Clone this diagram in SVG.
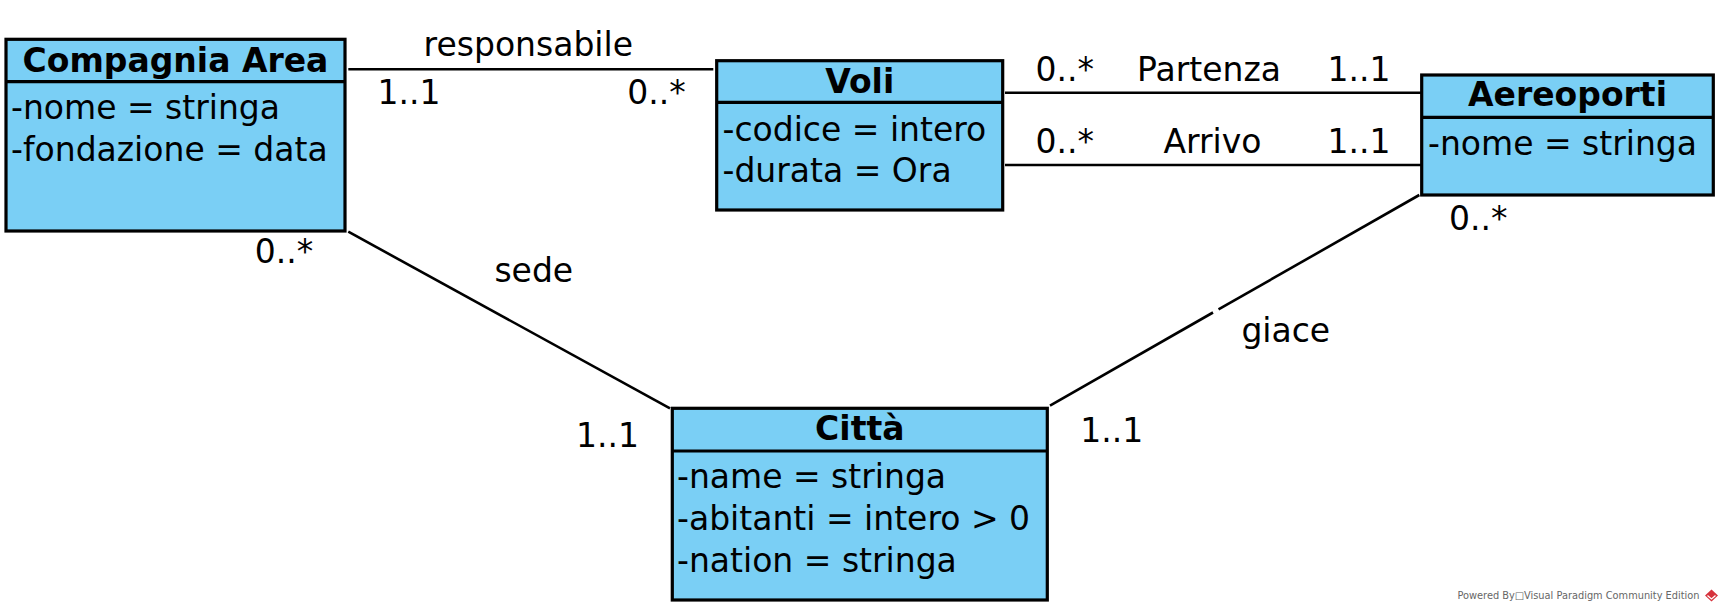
<svg xmlns="http://www.w3.org/2000/svg" width="1725" height="612" viewBox="0 0 1725 612">
<style>
.box{fill:#7ACFF5;stroke:#000;stroke-width:3.2}
.div{stroke:#000;stroke-width:3.2}
.t{font-family:"DejaVu Sans","Liberation Sans",sans-serif;font-size:33px;fill:#000}
.title{font-weight:bold;text-anchor:middle}
.lbl{text-anchor:middle}
.conn{stroke:#000;stroke-width:2.6;fill:none}
.wm{font-family:"DejaVu Sans","Liberation Sans",sans-serif;font-size:10px;fill:#666}
</style>
<rect width="1725" height="612" fill="#fff"/>
<g id="connectors">
  <line class="conn" x1="348.3" y1="69.3" x2="713.3" y2="69.3"/>
  <line class="conn" x1="1005" y1="92.7" x2="1421.7" y2="92.7"/>
  <line class="conn" x1="1005" y1="165" x2="1421.7" y2="165"/>
  <line class="conn" x1="348.3" y1="231.7" x2="670" y2="408.3"/>
  <line class="conn" x1="1050" y1="405.7" x2="1213" y2="312.5"/>
  <line class="conn" x1="1218.5" y1="309.4" x2="1419.3" y2="195"/>
  <text class="t lbl" x="528.3" y="56">responsabile</text>
  <text class="t lbl" x="409" y="104">1..1</text>
  <text class="t lbl" x="656.5" y="104">0..*</text>
  <text class="t lbl" x="1064.7" y="81">0..*</text>
  <text class="t lbl" x="1209" y="81">Partenza</text>
  <text class="t lbl" x="1359" y="81">1..1</text>
  <text class="t lbl" x="1064.7" y="152.7">0..*</text>
  <text class="t lbl" x="1212.5" y="152.7">Arrivo</text>
  <text class="t lbl" x="1359" y="152.7">1..1</text>
  <text class="t lbl" x="284" y="263.3">0..*</text>
  <text class="t lbl" x="533.8" y="281.7">sede</text>
  <text class="t lbl" x="607.5" y="446.7">1..1</text>
  <text class="t lbl" x="1285.8" y="341.7">giace</text>
  <text class="t lbl" x="1111.7" y="441.7">1..1</text>
  <text class="t lbl" x="1478.3" y="230">0..*</text>
</g>
<g id="compagnia-area">
  <rect class="box" x="6" y="39.3" width="339" height="191.7"/>
  <line class="div" x1="6" y1="81.7" x2="345" y2="81.7"/>
  <text class="t title" x="175.5" y="71.7">Compagnia Area</text>
  <text class="t" x="11" y="119.3">-nome = stringa</text>
  <text class="t" x="11" y="161">-fondazione = data</text>
</g>
<g id="voli">
  <rect class="box" x="716.7" y="60.7" width="286" height="149.3"/>
  <line class="div" x1="716.7" y1="102.3" x2="1002.7" y2="102.3"/>
  <text class="t title" x="859.7" y="92.7">Voli</text>
  <text class="t" x="722.5" y="140.7">-codice = intero</text>
  <text class="t" x="722.5" y="181.7">-durata = Ora</text>
</g>
<g id="aereoporti">
  <rect class="box" x="1421.7" y="75" width="291.6" height="120"/>
  <line class="div" x1="1421.7" y1="117.3" x2="1713.3" y2="117.3"/>
  <text class="t title" x="1567.5" y="106">Aereoporti</text>
  <text class="t" x="1428" y="155">-nome = stringa</text>
</g>
<g id="citta">
  <rect class="box" x="672.3" y="408.3" width="375" height="191.7"/>
  <line class="div" x1="672.3" y1="451" x2="1047.3" y2="451"/>
  <text class="t title" x="859.8" y="440">Città</text>
  <text class="t" x="677" y="488.3">-name = stringa</text>
  <text class="t" x="677" y="530">-abitanti = intero &gt; 0</text>
  <text class="t" x="677" y="571.7">-nation = stringa</text>
</g>
<g id="watermark">
  <text class="wm" x="1457.5" y="598.5" textLength="242" lengthAdjust="spacingAndGlyphs">Powered By□Visual Paradigm Community Edition</text>
  <polygon points="1711.5,589.5 1718,595.5 1711.5,601.5 1705,595.5" fill="#D6323C"/>
  <polyline points="1707.5,595.5 1711.5,599 1715.5,595.5" fill="none" stroke="#fff" stroke-width="1.2"/>
</g>
</svg>
